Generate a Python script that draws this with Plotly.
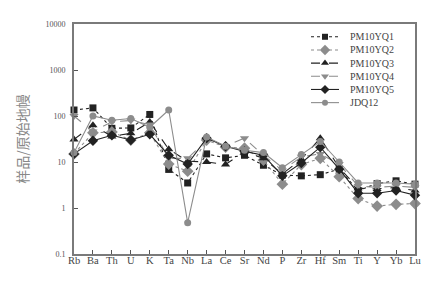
import plotly.graph_objects as go

elements = ["Rb", "Ba", "Th", "U", "K", "Ta", "Nb", "La", "Ce", "Sr",
            "Nd", "P", "Zr", "Hf", "Sm", "Ti", "Y", "Yb", "Lu"]

pm10yq1 = [135, 150, 54, 55, 108, 6.9, 3.5, 15, 12.3, 14, 8.5, 5.2, 5.0, 5.3, 7.0, 2.4, 3.4, 3.9, 3.3]
pm10yq2 = [15, 43, 45, 30, 43, 9.0, 6.3, 30, 21, 20, 11, 3.3, 8.8, 12, 4.8, 1.6, 1.1, 1.2, 1.25]
pm10yq3 = [31, 63, 36, 42, 74, 19, 10.4, 10, 8.8, 17, 12, 5.5, 11.5, 33, 7.5, 2.7, 2.6, 2.8, 2.4]
pm10yq4 = [100, 46, 75, 80, 65, 12, 12, 30, 22, 33, 14, 6.5, 13, 15, 9.0, 3.0, 2.8, 3.0, 2.8]
pm10yq5 = [15, 29, 38, 30, 40, 14, 9.0, 33, 22, 17, 14, 5.0, 9.5, 21, 7.0, 2.1, 2.1, 2.4, 1.9]
jdq12 = [16, 100, 81, 88, 57, 135, 0.48, 35, 22, 18, 16, 7.5, 14.5, 28, 10, 3.5, 3.5, 3.5, 3.3]

BLACK = "#222222"
GRAY = "#8c8c8c"

series = [
    ("PM10YQ1", pm10yq1, BLACK, "dot", "square", 7),
    ("PM10YQ2", pm10yq2, GRAY, "dot", "diamond", 9),
    ("PM10YQ3", pm10yq3, BLACK, "dash", "triangle-up", 8),
    ("PM10YQ4", pm10yq4, GRAY, "dash", "triangle-down", 8),
    ("PM10YQ5", pm10yq5, BLACK, "solid", "diamond", 8),
    ("JDQ12", jdq12, GRAY, "solid", "circle", 7),
]

x = list(range(len(elements)))
fig = go.Figure()
for name, vals, color, dash, sym, size in series:
    fig.add_trace(go.Scatter(
        x=x, y=vals, name=name, mode="lines+markers",
        line=dict(color=color, width=1.1, dash=dash),
        marker=dict(symbol=sym, size=size, color=color),
        cliponaxis=False, showlegend=False,
    ))

# compact legend drawn on a hidden overlay axis (pixel-like coordinates)
font_serif = "Liberation Serif"
for i, (name, vals, color, dash, sym, size) in enumerate(series):
    yrow = 25 + i * 13.4
    fig.add_trace(go.Scatter(
        x=[303, 331], y=[yrow, yrow], xaxis="x2", yaxis="y2",
        mode="lines", line=dict(color=color, width=1.1, dash=dash),
        showlegend=False, hoverinfo="skip",
    ))
    fig.add_trace(go.Scatter(
        x=[317], y=[yrow], xaxis="x2", yaxis="y2",
        mode="markers", marker=dict(symbol=sym, size=size - 1, color=color),
        showlegend=False, hoverinfo="skip",
    ))
    fig.add_annotation(
        x=340, y=yrow, xref="x2", yref="y2", text=name, showarrow=False,
        xanchor="left", yanchor="middle",
        font=dict(family=font_serif, size=10, color="#444"),
    )

fig.update_layout(
    width=437, height=283,
    margin=dict(l=66, r=30, t=12, b=37),
    paper_bgcolor="white", plot_bgcolor="white",
    font=dict(family=font_serif, size=10, color="#444"),
    showlegend=False,
    xaxis=dict(
        range=[0, 18], tickvals=x, ticktext=elements,
        ticks="inside", ticklen=4, tickcolor="#555",
        showgrid=False, zeroline=False,
        showline=True, mirror=True, linecolor="#7a7a7a", linewidth=2,
        tickfont=dict(family=font_serif, size=10.5, color="#444"),
        ticklabelstandoff=-5,
    ),
    yaxis=dict(
        type="log", range=[-1, 4],
        tickvals=[0.1, 1, 10, 100, 1000, 10000],
        ticktext=["0.1", "1", "10", "100", "1000", "10000"],
        ticks="inside", ticklen=4, tickcolor="#555",
        showgrid=False, zeroline=False,
        showline=True, mirror=True, linecolor="#7a7a7a", linewidth=2,
        tickfont=dict(family=font_serif, size=8, color="#555"),
        ticklabelstandoff=5,
        title=dict(text="样品/原始地幔", standoff=14,
                   font=dict(family="Noto Sans CJK SC", size=14, color="#888")),
    ),
    xaxis2=dict(range=[66, 407], overlaying="x", visible=False, fixedrange=True),
    yaxis2=dict(range=[246, 12], overlaying="y", visible=False, fixedrange=True),
)

fig.write_html("out.html")
